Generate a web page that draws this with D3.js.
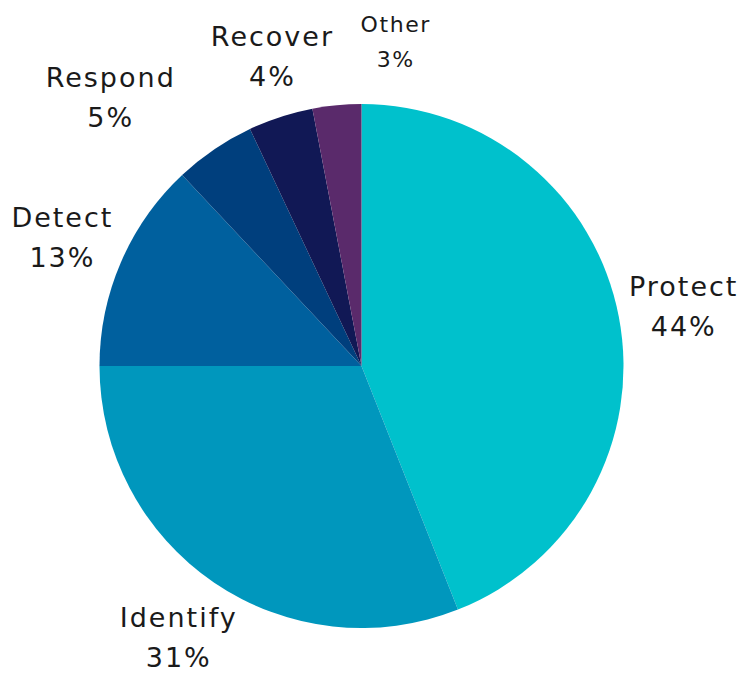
<!DOCTYPE html>
<html>
<head>
<meta charset="utf-8">
<script src="https://cdn.jsdelivr.net/npm/d3@7"></script>
<style>
  body { margin: 0; background: #fff; }
  svg text { font-family: "DejaVu Sans", sans-serif; fill: #1a1a1a; }
</style>
</head>
<body>
<svg id="chart" width="741" height="673"></svg>
<script>
const categories = ["Protect", "Identify", "Detect", "Respond", "Recover", "Other"];
const values = [44, 31, 13, 5, 4, 3];
const colors = ["#00c1cc", "#0097bd", "#00609e", "#003f7d", "#111855", "#5a2a6b"];

const width = 741, height = 673;
const cx = 361.5, cy = 366, radius = 262;

// label nudges (x) where the reference moved labels to avoid overlaps
const labelShift = { Respond: -68, Recover: 11, Other: 64 };

const data = categories.map((c, i) => ({ name: c, value: values[i], color: colors[i] }));

const svg = d3.select("#chart");
const g = svg.append("g").attr("transform", `translate(${cx},${cy})`);

const pie = d3.pie().sort(null).value(d => d.value);
const arc = d3.arc().innerRadius(0).outerRadius(radius);
const labelArc = d3.arc().innerRadius(327).outerRadius(327);

const arcs = pie(data);

g.selectAll("path")
  .data(arcs)
  .enter()
  .append("path")
  .attr("d", arc)
  .attr("fill", d => d.data.color);

const small = d => d.data.name === "Other";

const labels = g.selectAll("text.label")
  .data(arcs)
  .enter()
  .append("text")
  .attr("class", "label")
  .attr("text-anchor", "middle")
  .attr("transform", d => {
    const [x, y] = labelArc.centroid(d);
    return `translate(${x + (labelShift[d.data.name] || 0) + 1},${y})`;
  })
  .style("font-size", d => small(d) ? "22px" : "27px")
  .style("letter-spacing", d => small(d) ? "1.6px" : "2px");

labels.append("tspan")
  .attr("x", 0)
  .attr("y", d => small(d) ? -8 : -9)
  .text(d => d.data.name);

labels.append("tspan")
  .attr("x", 0)
  .attr("y", d => small(d) ? 27 : 31)
  .text(d => d.data.value + "%");
</script>
</body>
</html>
